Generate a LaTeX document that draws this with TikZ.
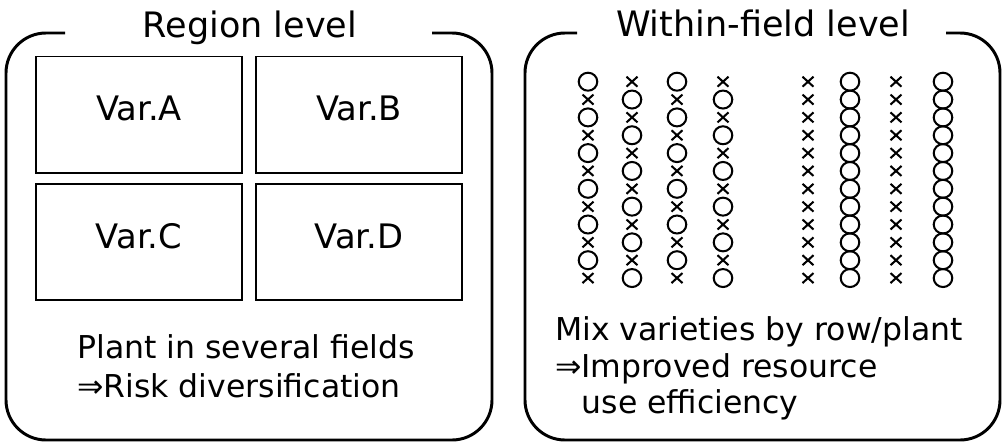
\documentclass[tikz,border=0pt]{standalone}
\usepackage{fontspec}
\setmainfont{DejaVu Sans}
\tikzset{
  frame/.style={line width=2.1pt, rounded corners=1cm},
  field/.style={draw, line width=1.4pt, minimum width=5.15cm, minimum height=2.9cm, inner sep=0pt},
  varlabel/.style={font=\fontsize{24}{29}\selectfont, inner sep=0pt},
  title/.style={font=\fontsize{24.9}{30}\selectfont, inner sep=0pt, anchor=base},
  body/.style={font=\fontsize{22.4}{27}\selectfont, inner sep=0pt, anchor=base west},
  plant/.style={line width=1.45pt}
}
\begin{document}
\begin{tikzpicture}[x=0.025cm, y=-0.025cm]
  \useasboundingbox (0,0) rectangle (1002,442);

  % region level
  \draw[frame] (65,33) -- (6,33) -- (6,440) -- (492,440) -- (492,33) -- (432,33);
  \node[title] (regtitle) at (250,37) {Region level};
  \node[field, label={[varlabel, yshift=4.5pt]center:Var.A}] (varA) at (139,114.5) {};
  \node[field, label={[varlabel, yshift=4.5pt]center:Var.B}] (varB) at (359,114.5) {};
  \node[field, label={[varlabel, yshift=4pt]center:Var.C}] (varC) at (139,242) {};
  \node[field, label={[varlabel, yshift=4pt]center:Var.D}] (varD) at (359,242) {};
  \node[body] (regtxt1) at (77,358) {Plant in several fields};
  \node[body] (regtxt2) at (77,397) {⇒Risk diversification};

  % within-field level
  \draw[frame] (577,33) -- (525,33) -- (525,440) -- (1000,440) -- (1000,33) -- (946,33);
  \node[title] (fldtitle) at (763,36) {Within-field level};
  % 0 = circle, 1 = cross (even rows / odd rows)
  \foreach \cx/\p/\q in {588/0/1, 632/1/0, 677/0/1, 723/1/0, 808/1/1, 850/0/0, 896/1/1, 943/0/0} {
    \foreach \i in {0,...,11} {
      \pgfmathsetmacro\y{81.7+17.85*\i}
      \pgfmathtruncatemacro\k{mod(\i,2)==0 ? \p : \q}
      \ifnum\k=0
        \draw[plant] (\cx,\y) circle [x radius=6.6pt, y radius=6.4pt];
      \else
        \draw[plant] ({\cx-5.5},{\y-5}) -- ({\cx+5.5},{\y+5})
                     ({\cx-5.5},{\y+5}) -- ({\cx+5.5},{\y-5});
      \fi
    }
  }
  \node[body] (fldtxt1) at (555,340) {Mix varieties by row/plant};
  \node[body] (fldtxt2) at (555,377) {⇒Improved resource};
  \node[body] (fldtxt3) at (555,413) {\phantom{⇒}use efficiency};
\end{tikzpicture}
\end{document}
